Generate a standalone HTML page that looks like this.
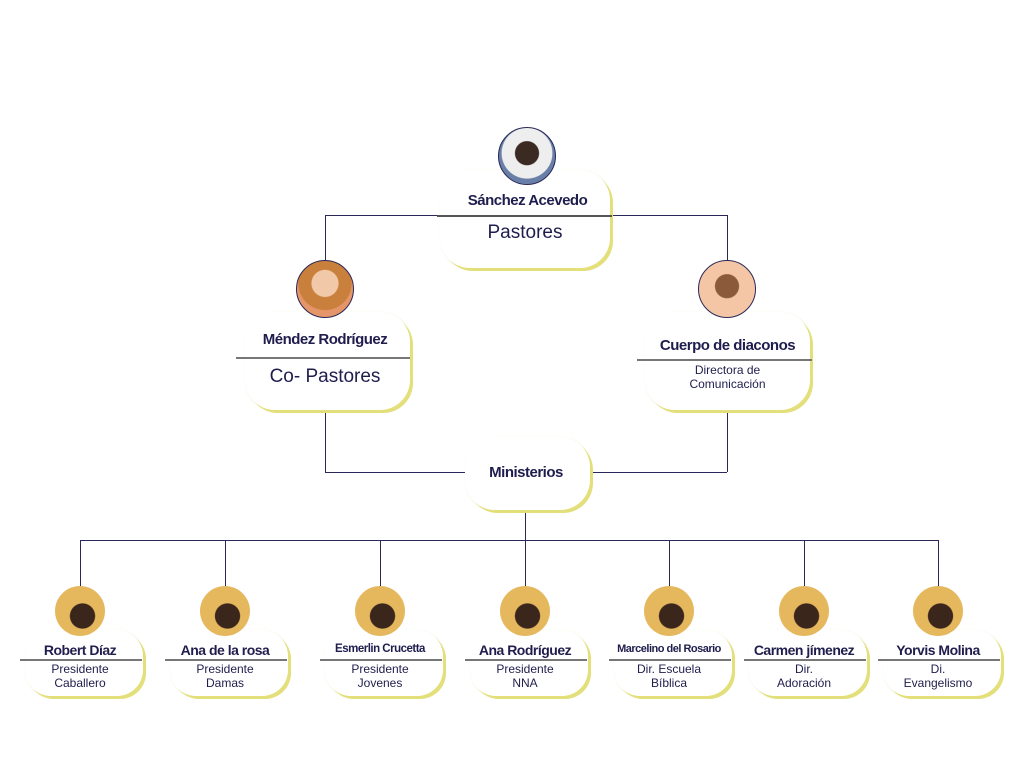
<!DOCTYPE html>
<html><head><meta charset="utf-8"><style>
body{margin:0;width:1024px;height:768px;background:#fff;position:relative;overflow:hidden;font-family:"Liberation Sans",sans-serif;color:#1f1d4d}
.l{position:absolute;background:#2a2858}
.card{position:absolute;background:#fff;border-radius:30px;box-shadow:3px 3px 0 0 #e3df7a,1px 1px 2px rgba(200,200,120,.4)}
.av{position:absolute;border-radius:50%;border:1.5px solid #2a2858;box-sizing:border-box;overflow:hidden}
.t{position:absolute;text-align:center;white-space:nowrap}
.n{font-weight:bold;letter-spacing:-0.5px}
.d{position:absolute;height:1.5px;background:#777}
</style></head><body>
<!-- connectors -->
<div class="l" style="left:325px;top:215px;width:402px;height:1px"></div>
<div class="l" style="left:325px;top:215px;width:1px;height:47px"></div>
<div class="l" style="left:727px;top:215px;width:1px;height:47px"></div>
<div class="l" style="left:325px;top:412px;width:1px;height:60px"></div>
<div class="l" style="left:727px;top:412px;width:1px;height:60px"></div>
<div class="l" style="left:325px;top:472px;width:402px;height:1px"></div>
<div class="l" style="left:525px;top:505px;width:1px;height:35px"></div>
<div class="l" style="left:80px;top:540px;width:858px;height:1px"></div>
<div class="l" style="left:80px;top:540px;width:1px;height:48px"></div>
<div class="l" style="left:225px;top:540px;width:1px;height:48px"></div>
<div class="l" style="left:380px;top:540px;width:1px;height:48px"></div>
<div class="l" style="left:525px;top:540px;width:1px;height:48px"></div>
<div class="l" style="left:669px;top:540px;width:1px;height:48px"></div>
<div class="l" style="left:804px;top:540px;width:1px;height:48px"></div>
<div class="l" style="left:938px;top:540px;width:1px;height:48px"></div>

<!-- top -->
<div class="card" style="left:440px;top:170px;width:170px;height:98px"></div>
<div class="l" style="left:437px;top:215px;width:175px;height:1.5px;background:#555"></div>
<div class="av" style="left:498px;top:127px;width:58px;height:58px;background:radial-gradient(circle at 50% 45%,#3a2a22 0 28%,#eee 30% 60%,#6a7fa8 62%)"></div>
<div class="t n" style="left:440px;width:175px;top:192px;font-size:15px">Sánchez Acevedo</div>
<div class="t" style="left:440px;width:170px;top:222px;font-size:19px">Pastores</div>

<!-- left -->
<div class="card" style="left:245px;top:312px;width:165px;height:98px"></div>
<div class="d" style="left:236px;top:357px;width:174px"></div>
<div class="av" style="left:296px;top:260px;width:58px;height:58px;background:radial-gradient(circle at 50% 40%,#f2c9a8 0 30%,#c9803d 32% 60%,#e5956a 62%)"></div>
<div class="t n" style="left:245px;width:160px;top:331px;font-size:15px">Méndez Rodríguez</div>
<div class="t" style="left:245px;width:160px;top:366px;font-size:19px">Co- Pastores</div>

<!-- right -->
<div class="card" style="left:645px;top:312px;width:165px;height:98px"></div>
<div class="d" style="left:637px;top:359px;width:175px"></div>
<div class="av" style="left:698px;top:260px;width:58px;height:58px;background:radial-gradient(circle at 50% 45%,#8a5a3a 0 28%,#f5c6a5 30%)"></div>
<div class="t n" style="left:645px;width:165px;top:337px;font-size:15px">Cuerpo de diaconos</div>
<div class="t" style="left:645px;width:165px;top:363px;font-size:12px;line-height:14px">Directora de<br>Comunicación</div>

<!-- ministerios -->
<div class="card" style="left:465px;top:437px;width:125px;height:73px"></div>
<div class="t n" style="left:462px;width:128px;top:464px;font-size:15px">Ministerios</div>

<!-- bottom -->
<div id="b"></div>
<script>
var d=[[80,"Robert Díaz","Presidente<br>Caballero",14],[225,"Ana de la rosa","Presidente<br>Damas",14],[380,"Esmerlin Crucetta","Presidente<br>Jovenes",11.5],[525,"Ana Rodríguez","Presidente<br>NNA",14],[669,"Marcelino del Rosario","Dir. Escuela<br>Bíblica",11],[804,"Carmen jímenez","Dir.<br>Adoración",14],[938,"Yorvis Molina","Di.<br>Evangelismo",14]];
var h="";
d.forEach(function(e){var c=e[0];
h+='<div class="card" style="left:'+(c-55)+'px;top:630px;width:118px;height:66px;border-radius:26px"></div>';
h+='<div class="d" style="left:'+(c-60)+'px;top:659px;width:122px"></div>';
h+='<div class="av" style="left:'+(c-25)+'px;top:586px;width:50px;height:50px;border:none;background:radial-gradient(circle at 55% 60%,#3b261c 0 30%,#e5b85e 32%)"></div>';
h+='<div class="t n" style="left:'+(c-65)+'px;width:130px;top:'+(650-e[3]*0.6)+'px;font-size:'+e[3]+'px">'+e[1]+'</div>';
h+='<div class="t" style="left:'+(c-60)+'px;width:120px;top:662px;font-size:12px;line-height:14px">'+e[2]+'</div>';});
document.getElementById("b").innerHTML=h;
</script>
</body></html>
